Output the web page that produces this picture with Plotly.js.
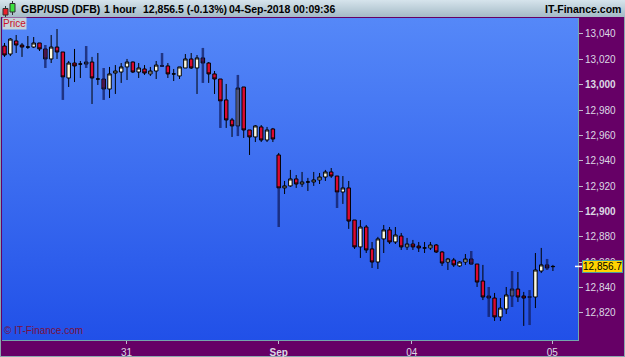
<!DOCTYPE html>
<html><head><meta charset="utf-8">
<script src="https://cdn.plot.ly/plotly-3.0.1.min.js"></script>
<style>
html,body{margin:0;padding:0;background:#660066;width:625px;height:357px;overflow:hidden;}
#frame{position:absolute;left:0;top:0;width:623px;height:355px;border:1px solid #8aa6ac;}
#bar{position:absolute;left:0;top:0;width:625px;height:17px;background:linear-gradient(#d6e4ec,#a4bac6);}
#pbg{position:absolute;left:2px;top:18px;width:576px;height:322px;background:linear-gradient(#5588f8,#2150e8);}
#chart{position:absolute;left:0;top:0;width:625px;height:357px;}
</style></head><body>
<div id="frame"></div><div id="bar"></div><div id="pbg"></div><div id="chart"></div>
<script>
// hourly candles, GBP/USD (DFB), price in points
const openP=[13030.5,13024.2,13034.5,13031.3,13029.7,13029.7,13032.9,13028.2,13020.3,13029.7,
13025.8,13005.3,13017.1,13016.3,13016.3,13017.9,13004.5,13004.5,12996.6,13009.2,
13010.0,13014.0,13017.9,13010.0,13012.4,13008.5,13010.8,13014.8,13014.8,13008.5,
13006.9,13013.2,13020.3,13013.2,13021.1,13017.1,13008.5,13004.5,12988.0,12972.2,
12967.5,12998.2,12964.3,12958.8,12966.7,12956.4,12965.1,12944.6,12918.6,12920.2,
12925.7,12921.7,12923.3,12923.3,12924.9,12927.2,12931.2,12928.0,12915.4,12918.6,
12893.3,12872.1,12887.8,12870.5,12860.2,12878.4,12885.5,12876.0,12880.7,12872.1,
12874.4,12872.8,12871.3,12871.3,12873.6,12868.1,12860.2,12861.8,12857.1,12860.2,
12862.6,12858.6,12845.2,12833.4,12831.8,12816.9,12823.2,12833.4,12838.9,12833.4,
12832.6,12832.6,12853.1,12857.9,12856.5];
const highP=[13032.9,13036.8,13039.2,13032.9,13038.4,13037.6,13032.9,13028.2,13039.2,13043.9,
13025.8,13018.7,13028.2,13018.7,13017.9,13021.9,13025.0,13004.5,13014.0,13015.5,
13017.1,13020.3,13018.3,13017.1,13015.5,13014.0,13018.7,13015.5,13017.1,13012.4,
13014.0,13024.2,13025.0,13023.4,13021.1,13017.9,13010.8,13004.5,13000.6,12973.8,
12997.4,12998.2,12964.3,12968.2,12968.2,12966.7,12965.9,12946.2,12924.1,12932.8,
12928.8,12931.2,12926.5,12931.2,12930.4,12932.8,12934.3,12928.0,12928.0,12924.1,
12893.3,12893.3,12889.4,12876.0,12880.0,12889.4,12887.8,12887.8,12883.1,12879.2,
12877.6,12876.0,12876.0,12876.0,12874.4,12868.9,12863.4,12863.4,12860.9,12866.5,
12862.6,12858.6,12857.9,12833.4,12835.8,12831.8,12840.5,12838.9,12852.3,12836.6,
12832.6,12867.3,12871.3,12857.9,12857.9];
const lowP=[13021.9,13022.6,13025.0,13021.9,13028.2,13028.9,13026.6,13020.3,13017.1,13020.3,
13006.1,12998.2,13002.1,13005.3,13016.3,12984.8,12999.8,12996.6,12989.5,12992.7,
13001.4,13003.7,13009.2,13005.3,13007.7,13006.9,13004.5,13014.0,13005.3,13002.9,
13004.5,13013.2,13012.4,12992.7,13017.1,13001.4,12992.7,12987.2,12965.9,12958.8,
12967.5,12958.0,12944.6,12954.8,12954.8,12954.8,12954.8,12918.6,12913.8,12919.4,
12918.6,12919.4,12916.2,12920.2,12921.7,12924.1,12926.5,12915.4,12906.0,12886.3,
12870.5,12863.4,12867.3,12855.5,12854.7,12867.3,12874.4,12874.4,12869.7,12869.7,
12869.7,12868.1,12867.3,12869.7,12867.3,12857.1,12853.9,12856.3,12856.3,12857.9,
12858.6,12840.5,12830.2,12831.8,12813.7,12813.7,12819.2,12833.4,12828.7,12809.8,
12832.6,12823.9,12851.5,12855.5,12853.1];
const closeP=[13023.4,13036.0,13031.3,13029.7,13029.7,13032.9,13028.2,13020.3,13029.7,13025.8,
13006.1,13017.1,13014.8,13016.3,13017.9,13005.3,13004.5,12996.6,13008.5,13010.8,
13014.0,13017.9,13010.0,13013.2,13009.2,13010.8,13015.5,13014.8,13008.5,13008.5,
13014.0,13020.3,13013.2,13021.1,13017.1,13008.5,13004.5,12987.2,12972.2,12967.5,
12997.4,12964.3,12958.8,12967.5,12956.4,12964.3,12957.2,12918.6,12920.2,12925.7,
12921.7,12923.3,12923.3,12924.9,12927.2,12931.2,12928.0,12915.4,12918.6,12892.5,
12872.1,12887.8,12869.7,12860.2,12878.4,12885.5,12876.0,12881.5,12872.1,12874.4,
12872.1,12871.3,12871.3,12873.6,12868.1,12859.4,12862.6,12857.9,12860.2,12862.6,
12858.6,12844.4,12832.6,12831.8,12816.9,12823.9,12834.2,12838.9,12832.6,12831.8,
12832.6,12853.9,12857.9,12855.5,12856.7];
// dark shadow strokes (candle number, top, bottom)
const shadeIdx=[8,11,15,18,28,35,38,41,48,58,81,84,88,91,94];
const shadeHi=[13031.3,13006.1,13030.5,13013.2,13025.0,13029.0,12987.2,13007.7,12918.6,12915.4,12868.9,12840.5,12853.1,12838.1,12862.6];
const shadeLo=[13013.2,12988.0,13013.2,12988.0,13014.0,13001.4,12965.9,12959.5,12887.8,12902.8,12857.9,12816.9,12824.7,12810.5,12853.9];
const lastPrice=12856.7;
const lastLabel='12,856.7';
const yTickVals=[12820,12840,12860,12880,12900,12920,12940,12960,12980,13000,13020,13040];
const yTickText=['12,820','12,840','12,860','12,880','<b>12,900</b>','12,920','12,940','12,960','12,980','<b>13,000</b>','13,020','13,040'];
const xTickVals=[20.9,47,69.8,93.9];
const xTickText=['31','<b>Sep</b>','04','05'];

const xs=openP.map((_,i)=>i);
const sx=[],sy=[];
shadeIdx.forEach((n,k)=>{sx.push(n-1,n-1,null);sy.push(shadeHi[k],shadeLo[k],null);});

const px=p=>(p-2)/576, py=p=>(340-p)/322;
const F='Liberation Sans, Arial, sans-serif';
const TF={family:F,size:10.5,color:'#000000',weight:700};

const data=[
 {type:'scatter',mode:'lines',x:sx,y:sy,line:{color:'rgba(18,28,95,0.75)',width:2.5},hoverinfo:'skip'},
 {type:'candlestick',x:xs,open:openP,high:highP,low:lowP,close:closeP,
  increasing:{line:{color:'#000000',width:1},fillcolor:'#fffbe0'},
  decreasing:{line:{color:'#000000',width:1},fillcolor:'#dc0a30'},
  whiskerwidth:0,hoverinfo:'skip'}
];
const ann=(x,y,t,o)=>Object.assign({xref:'paper',yref:'paper',x:px(x),y:py(y),text:t,showarrow:false,xanchor:'left',yanchor:'middle'},o||{});
const layout={
 width:625,height:357,margin:{l:2,r:47,t:18,b:17,pad:0},
 paper_bgcolor:'rgba(0,0,0,0)',plot_bgcolor:'rgba(0,0,0,0)',showlegend:false,
 boxgap:0.15,
 xaxis:{type:'linear',range:[-0.43,98.3],rangeslider:{visible:false},showgrid:false,zeroline:false,
  tickmode:'array',tickvals:xTickVals,ticktext:xTickText,ticks:'outside',ticklen:3,tickcolor:'#c0b8cc',
  tickfont:{family:F,size:10,color:'#dcd8e4'},showline:true,linecolor:'#74a6ac',linewidth:1,fixedrange:true},
 yaxis:{side:'right',range:[12798.7,13052.6],showgrid:false,zeroline:false,
  tickmode:'array',tickvals:yTickVals,ticktext:yTickText,ticks:'outside',ticklen:4,tickcolor:'#c0b8cc',
  tickfont:{family:F,size:10,color:'#dcd8e4'},showline:true,linecolor:'#74a6ac',linewidth:1,fixedrange:true},
 shapes:[
  {type:'line',xref:'paper',yref:'paper',x0:px(5.5),x1:px(5.5),y0:py(6),y1:py(17),line:{color:'#303030',width:1}},
  {type:'rect',xref:'paper',yref:'paper',x0:px(3),x1:px(8),y0:py(8.5),y1:py(15),fillcolor:'#e8202c',line:{color:'#303030',width:1}},
  {type:'line',xref:'paper',yref:'paper',x0:px(12.5),x1:px(12.5),y0:py(1),y1:py(15),line:{color:'#303030',width:1}},
  {type:'rect',xref:'paper',yref:'paper',x0:px(10),x1:px(15),y0:py(3.5),y1:py(12),fillcolor:'#3ce040',line:{color:'#303030',width:1}},
  {type:'line',xref:'paper',yref:'y',x0:px(575),x1:px(582),y0:lastPrice,y1:lastPrice,line:{color:'#ffffff',width:1.5}}
 ],
 annotations:[
  ann(19,9,'GBP/USD (DFB)',{font:TF}),
  ann(102,9,'1 hour',{font:TF}),
  ann(141,9,'12,856.5 (-0.13%)',{font:TF}),
  ann(227,9,'04-Sep-2018 00:09:36',{font:TF}),
  ann(623,9,'IT-Finance.com',{xanchor:'right',font:TF}),
  ann(2,23.5,'Price',{bgcolor:'#c6d2da',borderpad:0,font:{family:F,size:10,color:'#c8102a'}}),
  ann(2,330,'© IT-Finance.com',{font:{family:F,size:10,color:'#7a1040'}}),
  {xref:'paper',yref:'y',x:1,xshift:4,y:lastPrice,text:lastLabel,showarrow:false,xanchor:'left',yanchor:'middle',
   bgcolor:'#ffd400',bordercolor:'#4a9aa0',borderwidth:1,borderpad:0,font:{family:F,size:10,color:'#000000'}}
 ]
};
Plotly.newPlot('chart',data,layout,{displayModeBar:false,staticPlot:true});
</script></body></html>
